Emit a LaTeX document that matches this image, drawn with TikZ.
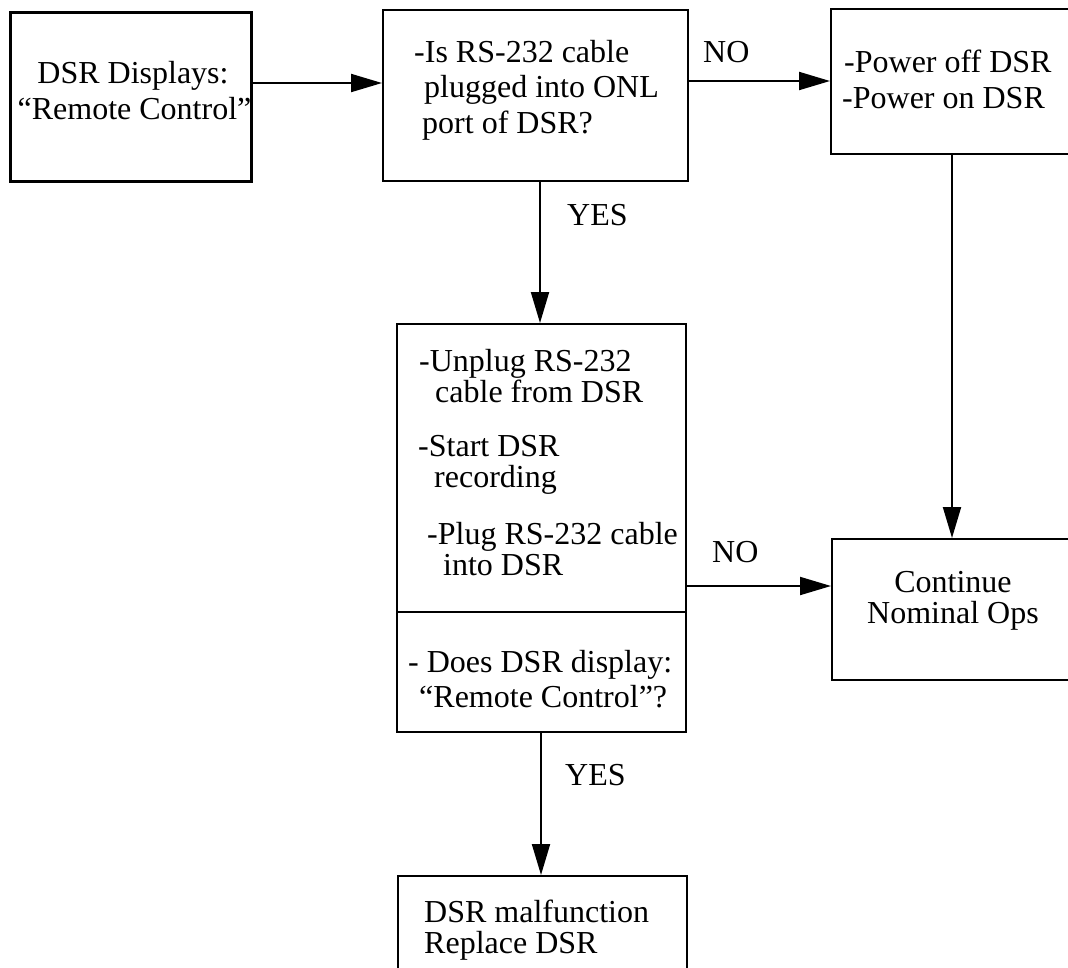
\documentclass[tikz,border=0pt]{standalone}
\usepackage{fontspec}
\setmainfont{Liberation Serif}
\usetikzlibrary{arrows.meta}

\tikzset{
  box/.style={draw=black, line width=2pt, fill=none, inner sep=0pt,
              anchor=north west, minimum width=#1},
  box/.default=100pt,
  txt/.style={inner sep=0pt, font=\fontsize{32}{34}\selectfont},
  lbl/.style={txt, anchor=base west},
  arr/.style={line width=2pt, -{Triangle[length=31pt,width=18pt]}}
}

\begin{document}
\begin{tikzpicture}[x=1pt, y=-1pt]
  \useasboundingbox (0,0) rectangle (1068,967);
  \fill[white] (0,0) rectangle (1068,967);
  \clip (0,0) rectangle (1068,967);

  % boxes
  \node[box=241pt, minimum height=169pt, line width=3pt] (b1) at (9,11) {};
  \node[box=305pt, minimum height=171pt] (b2) at (382,9) {};
  \node[box=250pt, minimum height=145pt] (b3) at (830,8) {};
  \node[box=289pt, minimum height=408pt] (b4) at (396,323) {};
  \node[box=244pt, minimum height=141pt] (b5) at (831,538) {};
  \node[box=289pt, minimum height=125pt] (b6) at (397,875) {};

  % divider inside the test box
  \coordinate (dv) at (0,612);
  \draw[line width=2pt] (b4.west |- dv) -- (b4.east |- dv);

  % start box text
  \node[txt, anchor=base] (t1a) at (133,83) {DSR Displays:};
  \node[txt, anchor=base] (t1b) at (134.5,119) {“Remote Control”};

  % cable question
  \node[lbl] (t2a) at (414,62) {-Is RS-232 cable};
  \node[lbl] (t2b) at (424,97) {plugged into ONL};
  \node[lbl] (t2c) at (422,133) {port of DSR?};

  % power cycle
  \node[lbl] (t3a) at (844,72) {-Power off DSR};
  \node[lbl] (t3b) at (842,108) {-Power on DSR};

  % replug procedure
  \node[lbl] (t4a) at (419,371) {-Unplug RS-232};
  \node[lbl] (t4b) at (435,402) {cable from DSR};
  \node[lbl] (t4c) at (418,456) {-Start DSR};
  \node[lbl] (t4d) at (434,487) {recording};
  \node[lbl] (t4e) at (427,544) {-Plug RS-232 cable};
  \node[lbl] (t4f) at (443,575) {into DSR};
  \node[lbl] (t4g) at (408,672) {- Does DSR display:};
  \node[lbl] (t4h) at (419,707) {“Remote Control”?};

  % continue
  \node[txt, anchor=base] (t5a) at (953,592) {Continue};
  \node[txt, anchor=base] (t5b) at (953,623) {Nominal Ops};

  % malfunction
  \node[lbl] (t6a) at (424,922) {DSR malfunction};
  \node[lbl] (t6b) at (424,953) {Replace DSR};

  % branch labels
  \node[lbl] (no1) at (703,62) {NO};
  \node[lbl] (ye1) at (567,225) {YES};
  \node[lbl] (no2) at (712,562) {NO};
  \node[lbl] (ye2) at (565,785) {YES};

  % connectors
  \draw[arr] (b1.east |- 0,83) -- (b2.west |- 0,83);
  \draw[arr] (b2.east |- 0,81) -- (b3.west |- 0,81);
  \draw[arr] (b2.south -| 540,0) -- (b4.north -| 540,0);
  \draw[arr] (b3.south -| 952,0) -- (b5.north -| 952,0);
  \draw[arr] (b4.east |- 0,586) -- (b5.west |- 0,586);
  \draw[arr] (b4.south -| 541,0) -- (b6.north -| 541,0);
\end{tikzpicture}
\end{document}
